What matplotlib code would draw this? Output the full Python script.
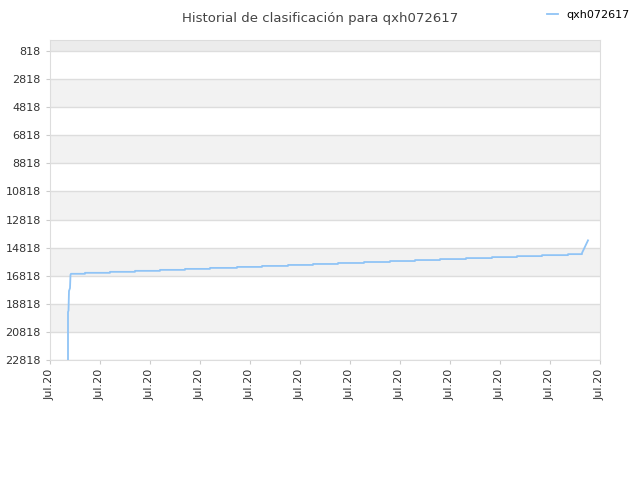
import matplotlib
matplotlib.use("Agg")
import matplotlib.pyplot as plt

# x in tick units (0..11 correspond to the 12 "Jul.20" ticks)
x_vals = [0.36, 0.36, 0.37, 0.38, 0.40, 0.41, 0.42, 0.70, 0.70, 1.20, 1.20, 1.70, 1.70, 2.20, 2.20,
          2.70, 2.70, 3.20, 3.20, 3.74, 3.74, 4.24, 4.24, 4.76, 4.76, 5.26, 5.26, 5.76, 5.76,
          6.28, 6.28, 6.80, 6.80, 7.30, 7.30, 7.80, 7.80, 8.32, 8.32, 8.84, 8.84, 9.34, 9.34,
          9.84, 9.84, 10.36, 10.36, 10.64, 10.64, 10.76]
ranks = [22818, 19400, 19300, 17900, 17700, 16750, 16680, 16680, 16610, 16610, 16540, 16540, 16470,
         16470, 16400, 16400, 16330, 16330, 16260, 16260, 16190, 16190, 16120, 16120, 16050,
         16050, 15980, 15980, 15910, 15910, 15840, 15840, 15770, 15770, 15700, 15700, 15630,
         15630, 15560, 15560, 15490, 15490, 15420, 15420, 15350, 15350, 15280, 15280, 15200, 14300]
yticks = [818 + 2000 * k for k in range(12)]
xlabels = ["Jul.20"] * 12

fig = plt.figure(figsize=(6.4, 4.8), dpi=100)
ax = fig.add_axes([50/640, 120/480, 550/640, 320/480])
ytop = 818 - 11/28*2000
ax.set_ylim(22818, ytop)
ax.set_xlim(0, 11)
ax.axhspan(ytop, 818, color="#ececec", zorder=0, lw=0)
for k in range(11):
    if k % 2 == 1:
        ax.axhspan(yticks[k], yticks[k+1], color="#f2f2f2", zorder=0, lw=0)
for y in yticks:
    ax.axhline(y, color="#dddddd", lw=1, zorder=1)
ax.plot(x_vals, ranks, color="#90c4f6", lw=1.3, zorder=3)
ax.set_yticks(yticks)
ax.set_yticklabels([str(v) for v in yticks], fontsize=8, color="#333333")
ax.set_xticks(range(12))
ax.set_xticklabels(xlabels, rotation=90, fontsize=8, color="#333333")
for s in ax.spines.values():
    s.set_color("#dddddd")
ax.tick_params(length=3, color="#cccccc")
fig.text(0.5, 0.975, "Historial de clasificación para qxh072617", ha="center", va="top",
         fontsize=9.5, color="#444444")
fig.legend(handles=[plt.Line2D([], [], color="#90c4f6", lw=1.3)], labels=["qxh072617"],
           loc="upper right", bbox_to_anchor=(1.0, 1.0), frameon=False, fontsize=8, handlelength=1)
fig.savefig("out.png")
